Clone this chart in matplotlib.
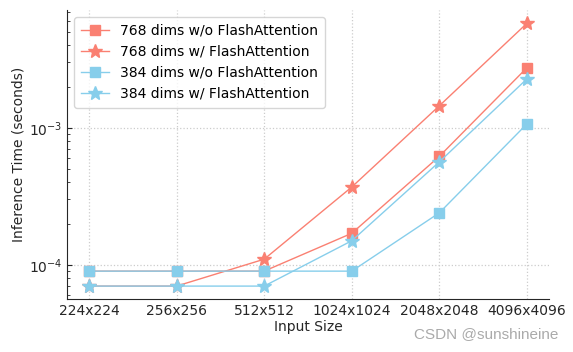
import matplotlib
matplotlib.use("Agg")
from matplotlib import pyplot as plt

sizes = ["224x224", "256x256", "512x512", "1024x1024", "2048x2048", "4096x4096"]

t768_no_fa = [9.0e-5, 9.0e-5, 9.0e-5, 1.7e-4, 6.2e-4, 2.75e-3]
t768_fa = [7.0e-5, 7.0e-5, 1.1e-4, 3.7e-4, 1.45e-3, 5.8e-3]
t384_no_fa = [9.0e-5, 9.0e-5, 9.0e-5, 9.0e-5, 2.4e-4, 1.07e-3]
t384_fa = [7.0e-5, 7.0e-5, 7.0e-5, 1.5e-4, 5.65e-4, 2.28e-3]

red = "#FA8072"
blue = "#87CEEB"

fig = plt.figure(figsize=(5.73, 3.52), dpi=100)
ax = fig.add_axes([0.117, 0.151, 0.841, 0.821])

x = range(len(sizes))
ax.plot(x, t768_no_fa, color=red, marker="s", markersize=6.5, lw=1.0,
        label="768 dims w/o FlashAttention")
ax.plot(x, t768_fa, color=red, marker="*", markersize=10, lw=1.0,
        label="768 dims w/ FlashAttention")
ax.plot(x, t384_no_fa, color=blue, marker="s", markersize=6.5, lw=1.0,
        label="384 dims w/o FlashAttention")
ax.plot(x, t384_fa, color=blue, marker="*", markersize=10, lw=1.0,
        label="384 dims w/ FlashAttention")

ax.set_yscale("log")
ax.set_ylim(5.65e-5, 7.26e-3)
ax.set_xticks(list(x))
ax.set_xticklabels(sizes)
ax.set_xlabel("Input Size", fontsize=10, color="#262626", labelpad=2)
ax.set_ylabel("Inference Time (seconds)", fontsize=10, color="#262626",
              labelpad=2)

ax.grid(True, which="major", linestyle=":", color="#cccccc", lw=0.9)
ax.tick_params(direction="in", labelsize=10, colors="#262626", which="both")
ax.tick_params(axis="x", length=0)
for side in ["top", "right"]:
    ax.spines[side].set_visible(False)
for side in ["left", "bottom"]:
    ax.spines[side].set_color("#262626")

ax.legend(loc="upper left", fontsize=10, frameon=True, edgecolor="#cccccc",
          borderpad=0.5, handlelength=2.0)

fig.text(0.975, 0.03, "CSDN @sunshineine", ha="right", va="bottom",
         fontsize=11, color="#aaaaaa", family="Liberation Sans")

fig.savefig("out.png", dpi=100)
